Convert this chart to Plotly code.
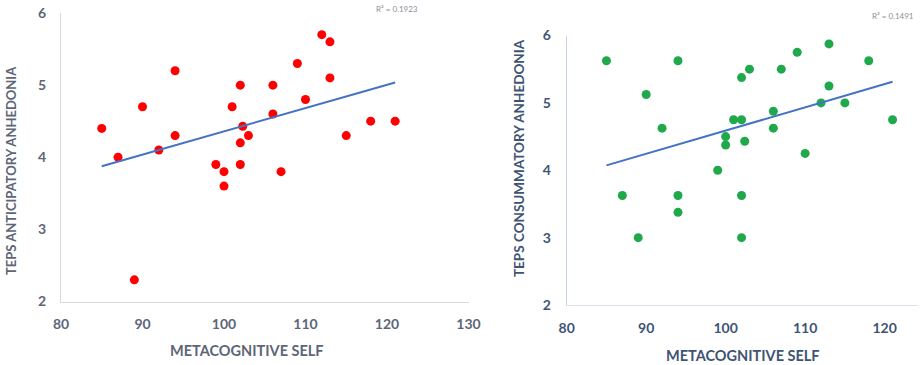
import numpy as np
import plotly.graph_objects as go

# Left panel: Metacognitive self vs TEPS anticipatory anhedonia
ant_x = [85, 87, 89, 90, 92, 94, 94, 99, 100, 100, 101, 102, 102.3, 102, 102, 103,
         106, 106, 107, 109, 110, 112, 113, 113, 115, 118, 121]
ant_y = [4.4, 4.0, 2.3, 4.7, 4.1, 5.2, 4.3, 3.9, 3.8, 3.6, 4.7, 5.0, 4.43, 4.2, 3.9, 4.3,
         5.0, 4.6, 3.8, 5.3, 4.8, 5.7, 5.6, 5.1, 4.3, 4.5, 4.5]

# Right panel: Metacognitive self vs TEPS consummatory anhedonia
con_x = [85, 87, 89, 90, 92, 94, 94, 94, 99, 100, 100, 101, 102, 102, 102.4, 102, 102,
         103, 106, 106, 107, 109, 110, 112, 113, 113, 115, 118, 121]
con_y = [5.625, 3.625, 3.0, 5.125, 4.625, 5.625, 3.625, 3.375, 4.0, 4.5, 4.375, 4.75,
         4.75, 5.375, 4.43, 3.625, 3.0, 5.5, 4.875, 4.625, 5.5, 5.75, 4.25, 5.0, 5.875,
         5.25, 5.0, 5.625, 4.75]

ant_r2 = "R² = 0.1923"
con_r2 = "R² = 0.1491"
y_ticks = [2, 3, 4, 5, 6]
x_ticks_left = [80, 90, 100, 110, 120, 130]
x_ticks_right = [80, 90, 100, 110, 120]


def fit_line(x, y):
    a, b = np.polyfit(x, y, 1)
    xs = np.array([min(x), max(x)])
    return xs, a * xs + b


fig = go.Figure()
RED = "#ff0000"
GREEN = "#20a94b"
BLUE = "#4472c4"

fig.add_trace(go.Scatter(x=ant_x, y=ant_y, mode="markers", xaxis="x", yaxis="y",
                         marker=dict(color=RED, size=9), showlegend=False))
lx, ly = fit_line(ant_x, ant_y)
fig.add_trace(go.Scatter(x=lx, y=ly, mode="lines", xaxis="x", yaxis="y",
                         line=dict(color=BLUE, width=2), showlegend=False))

fig.add_trace(go.Scatter(x=con_x, y=con_y, mode="markers", xaxis="x2", yaxis="y2",
                         marker=dict(color=GREEN, size=9), showlegend=False))
rx, ry = fit_line(con_x, con_y)
fig.add_trace(go.Scatter(x=rx, y=ry, mode="lines", xaxis="x2", yaxis="y2",
                         line=dict(color=BLUE, width=2), showlegend=False))

W, H = 920, 365


def px(p):
    return p / W


def py(p):
    return 1 - p / H


LTICK = "#5d6577"
RTICK = "#3f5474"
FONT = "Lato"

common = dict(showgrid=False, zeroline=False, showline=True, ticks="",
              fixedrange=True, automargin=False, ticklabeloverflow="allow")

fig.update_layout(
    template="none",
    width=W, height=H,
    margin=dict(l=0, r=0, t=0, b=0, autoexpand=False),
    paper_bgcolor="white", plot_bgcolor="white",
    font=dict(family=FONT),
    hovermode=False,
    xaxis=dict(domain=[px(61), px(468.5)], range=[80, 130], tickvals=x_ticks_left,
               linecolor="#d9d9d9", linewidth=1, anchor="y",
               tickfont=dict(size=14, color=LTICK, weight="bold"),
               ticklabelstandoff=10, **common),
    yaxis=dict(domain=[py(301.5), py(13)], range=[2, 6], tickvals=y_ticks,
               linecolor="#d9d9d9", linewidth=1, anchor="x",
               tickfont=dict(size=14, color=LTICK, weight="bold"),
               ticklabelstandoff=11, **common),
    xaxis2=dict(domain=[px(566.7), px(918)], range=[80, 124.2], tickvals=x_ticks_right,
                linecolor="#dce3ee", linewidth=1, anchor="y2",
                tickfont=dict(size=14, color=RTICK, weight="bold"),
                ticklabelstandoff=10, **common),
    yaxis2=dict(domain=[py(305), py(35.5)], range=[2, 6], tickvals=y_ticks,
                linecolor="#c5d3e8", linewidth=1, anchor="x2",
                tickfont=dict(size=14, color=RTICK, weight="bold"),
                ticklabelstandoff=12, **common),
)

base = dict(xref="paper", yref="paper", showarrow=False, xanchor="center", yanchor="middle")
ann = []
ann.append(dict(text="METACOGNITIVE SELF", x=px(247), y=py(350),
                font=dict(size=14.5, color="#5d6577", weight="bold"), **base))
ann.append(dict(text="TEPS ANTICIPATORY ANHEDONIA", x=px(11), y=py(171), textangle=-90,
                font=dict(size=13, color="#5d6577", weight="bold"), **base))
ann.append(dict(text="METACOGNITIVE SELF", x=px(743), y=py(355),
                font=dict(size=14.5, color=RTICK, weight="bold"), **base))
ann.append(dict(text="TEPS CONSUMMATORY ANHEDONIA", x=px(519), y=py(158), textangle=-90,
                font=dict(size=13.5, color=RTICK, weight="bold"), **base))
ann.append(dict(text=ant_r2, x=px(397), y=py(9),
                font=dict(size=8, color="#8a8f99"), **base))
ann.append(dict(text=con_r2, x=px(893), y=py(16),
                font=dict(size=8, color="#8a8f99"), **base))
fig.update_layout(annotations=ann)

fig.write_html("out.html", config={"displayModeBar": False, "staticPlot": True},
               post_script="document.body.style.margin='0';document.body.style.padding='0';")
